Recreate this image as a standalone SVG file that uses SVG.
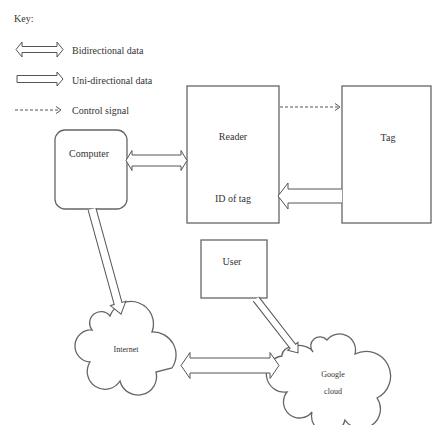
<svg xmlns="http://www.w3.org/2000/svg" width="432" height="425" viewBox="0 0 432 425">
<style>
text{font-family:"Liberation Serif","Times New Roman",serif;fill:#333;font-size:10px}
.c{text-anchor:middle}
.sm{font-size:8px}
.box{fill:#fff;stroke:#666;stroke-width:1.3}
.arr{fill:#fff;stroke:#555;stroke-width:1;stroke-linejoin:miter}
.dash{fill:none;stroke:#555;stroke-width:1;stroke-dasharray:3,2}
.head{fill:none;stroke:#555;stroke-width:1}
</style>
<rect width="432" height="425" fill="#fff"/>
<g id="key">
<text x="14" y="22">Key:</text>
<polygon class="arr" points="16,49.5 22,42 22,46.5 57,46.5 57,42 63,49.5 57,57 57,52.5 22,52.5 22,57"/>
<text x="72" y="53.5">Bidirectional data</text>
<polygon class="arr" points="17,75.5 57,75.5 57,72 63,79 57,86 57,82.5 17,82.5"/>
<text x="72" y="83.5">Uni-directional data</text>
<line class="dash" x1="15" y1="110" x2="60" y2="110"/>
<polyline class="head" points="56,106.5 61,110 56,113.5"/>
<text x="72" y="113.5">Control signal</text>
</g>
<g id="computer">
<rect class="box" x="55" y="130" width="72" height="79" rx="10"/>
<text class="c" x="89" y="157">Computer</text>
</g>
<g id="reader">
<rect class="box" x="187" y="86" width="92" height="137"/>
<text class="c" x="233" y="140">Reader</text>
<text class="c" x="233" y="202">ID of tag</text>
</g>
<g id="tag">
<rect class="box" x="342" y="86" width="89" height="137"/>
<text class="c" x="388" y="141">Tag</text>
</g>
<g id="user">
<rect class="box" x="201" y="240" width="66" height="58"/>
<text class="c" x="232" y="265">User</text>
</g>
<g id="internet">
<path class="box" d="M 90,362 A 15 15 0 0 1 92,330 A 10 10 0 0 1 110,316 A 22 22 0 0 1 152,332 A 23 23 0 0 1 172,368 L 156,372 A 18 18 0 0 1 120,381 A 14 14 0 0 1 90,362 Z"/>
<text class="c sm" x="126" y="352">Internet</text>
</g>
<g id="google">
<path class="box" d="M 287,392 A 16 16 0 0 1 282,356 A 16 10 0 0 1 313,352 A 9 9 0 0 1 327,340 A 16 16 0 0 1 355,354 A 23 23 0 0 1 377,398 A 18 18 0 0 1 345,420 A 15 15 0 0 1 312,412 A 14 14 0 0 1 287,392 Z"/>
<text class="c sm" x="333" y="377">Google</text>
<text class="c sm" x="333" y="394">cloud</text>
</g>
<g id="connectors">
<polygon class="arr" points="126,160.5 132,150.5 132,155 181,155 181,150.5 187,160.5 181,170.5 181,166 132,166 132,170.5"/>
<line class="dash" x1="280" y1="107" x2="339" y2="107"/>
<polyline class="head" points="335,103.5 340,107 335,110.5"/>
<polyline class="arr" points="342,189 288,189 288,183 278,196 288,209 288,203 342,203"/>
<polyline class="arr" transform="translate(92,209) rotate(74.56)" points="0,-4 98,-4 98,-8 109,0 98,8 98,4 0,4"/>
<polygon class="arr" points="181,365.5 190,352.5 190,358 270,358 270,352.5 279,365.5 270,378.5 270,373 190,373 190,378.5"/>
<polyline class="arr" transform="translate(256,299) rotate(52.1)" points="0,-3.5 60,-3.5 60,-6.5 68.4,0 60,6.5 60,3.5 0,3.5"/>
</g>
</svg>
